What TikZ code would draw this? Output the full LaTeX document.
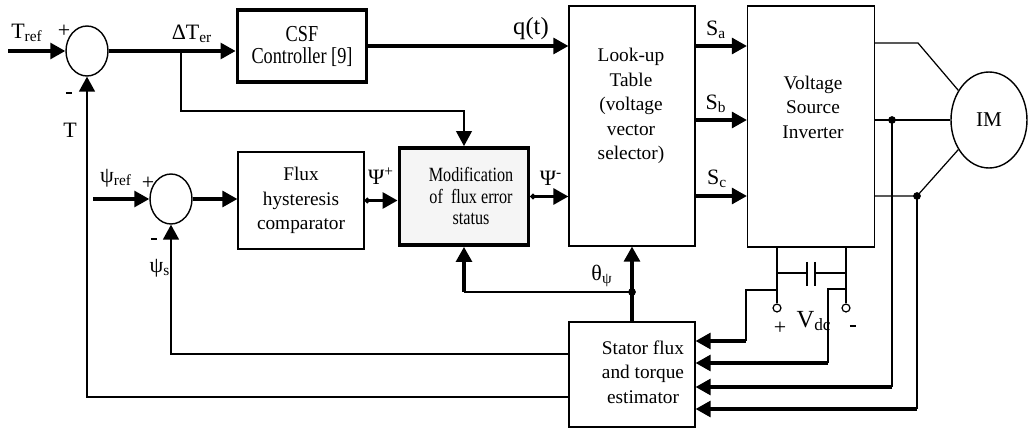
\documentclass[tikz,border=0pt]{standalone}
\usepackage{fontspec}
\setmainfont{Liberation Serif}
\newfontfamily\narrowfont{Liberation Serif}[FakeStretch=0.8]
\usepackage{tikz}
\usetikzlibrary{shapes.geometric, arrows.meta, positioning}
\tikzstyle{block} = [draw, rectangle, line width=0.7pt, align=center, inner sep=0pt, font=\fontsize{11}{14}\selectfont]
\tikzstyle{boldblock} = [block, line width=2.2pt, font=\narrowfont\fontsize{13}{12.5}\selectfont]
\tikzstyle{sumnode} = [draw, ellipse, line width=0.8pt, minimum width=0.84cm, minimum height=1cm, inner sep=0pt]
\tikzstyle{term} = [draw, circle, line width=0.7pt, fill=white, minimum size=4.5pt, inner sep=0pt]
\tikzstyle{wire} = [line width=0.7pt]
\tikzstyle{arrow} = [line width=1.8pt, -{Triangle[length=8.5pt, width=9pt]}]
\tikzstyle{fbarrow} = [line width=1.2pt, -{Triangle[length=8.5pt, width=9pt]}]
\tikzstyle{thinarrow} = [wire, -{Triangle[length=8.5pt, width=9pt]}]
\tikzstyle{lbl} = [inner sep=0pt, font=\fontsize{12.5}{14}\selectfont]
\tikzstyle{txt} = [align=center, inner sep=0pt, font=\fontsize{11}{14}\selectfont]
\newcommand{\minussign}{\rule[2pt]{3.5pt}{1.3pt}}

\begin{document}
\begin{tikzpicture}[x=0.02cm, y=-0.02cm]
    \useasboundingbox (0,0) rectangle (1029,429);

    % Nodes
    \node[sumnode] (sum1) at (87,51) {};
    \node[sumnode] (sum2) at (171,199) {};
    \node[boldblock, minimum width=2.58cm, minimum height=1.44cm] (csf) at (302,46) {CSF\\Controller [9]};
    \node[block, minimum width=2.52cm, minimum height=4.8cm] (lut) at (632,126) {};
    \node[block, minimum width=2.54cm, minimum height=4.82cm] (vsi) at (811,126.5) {};
    \node[draw, ellipse, line width=0.8pt, minimum width=1.52cm, minimum height=1.92cm, font=\fontsize{12}{14}\selectfont] (im) at (989,120) {IM};
    \node[block, minimum width=2.52cm, minimum height=1.94cm] (flux) at (301,200.5) {Flux\\hysteresis\\comparator};
    \node[block, line width=2.2pt, fill=gray!8, minimum width=2.58cm, minimum height=1.94cm] (mod) at (464,196.5) {};
    \node[block, minimum width=2.52cm, minimum height=2.1cm] (est) at (632,374.5) {};
    \node[term] (tp) at (777,308) {};
    \node[term] (tn) at (846,308) {};

    % Texts in the blocks
    \node[txt] (luttext) at (631,106) {Look-up\\Table\\(voltage\\vector\\selector)};
    \node[txt] (vsitext) at (813,107) {Voltage\\Source\\Inverter};
    \node[txt, font=\narrowfont\fontsize{11.5}{12}\selectfont] (modtext) at (471,196) {Modification\\of~ flux error\\status};
    \node[txt] (esttext) at (643,372) {Stator flux\\and torque\\estimator};

    % Points on the lines
    \coordinate (tin) at (8,51);
    \coordinate (psiin) at (93,199);
    \coordinate (br1) at (181,51);
    \coordinate (ja) at (918,43);
    \coordinate (jb) at (892,120);
    \coordinate (jc) at (917,196);
    \coordinate (jt) at (632,292);
    \coordinate (c1) at (807,273);
    \coordinate (c2) at (815,273);
    \coordinate (w1) at (746,341);
    \coordinate (w2) at (828,363);
    \coordinate (w3) at (892,387);
    \coordinate (w4) at (917,409);

    % Torque loop
    \draw[arrow] (tin) -- (sum1.west);
    \draw[arrow] (sum1.east) -- (sum1.east -| csf.west);
    \draw[thinarrow] (br1) -- (br1 |- 0,111) -| (mod.north);
    \draw[arrow] (csf.east) -- (csf.east -| lut.west);

    % Flux loop
    \draw[arrow] (psiin) -- (sum2.west);
    \draw[arrow] (sum2.east) -- (sum2.east -| flux.west);
    \draw[arrow, {Circle[length=3pt]}-{Triangle[length=8.5pt, width=9pt]}] (flux.east) -- (flux.east -| mod.west);
    \draw[arrow, {Circle[length=3pt]}-{Triangle[length=8.5pt, width=9pt]}] (mod.east) -- (mod.east -| lut.west);

    % Switching signals
    \draw[arrow] (lut.east |- csf.east) -- (vsi.west |- csf.east);
    \draw[arrow] (lut.east |- im.west) -- (vsi.west |- im.west);
    \draw[arrow] (lut.east |- jc) -- (vsi.west |- jc);

    % Motor
    \draw[wire] (vsi.east |- ja) -- (ja) -- (im.136);
    \draw[wire] (vsi.east |- im.west) -- (im.west);
    \draw[wire] (vsi.east |- jc) -- (jc) -- (im.224);
    \fill (jb) circle (2.2pt);
    \fill (jc) circle (2.2pt);

    % DC link
    \draw[wire] (tp.north) -- (tp |- vsi.south);
    \draw[wire] (tn.north) -- (tn |- vsi.south);
    \draw[wire] (tp |- c1) -- (c1);
    \draw[wire] (c2) -- (tn |- c2);
    \draw[line width=1.2pt] (807,262) -- (807,286) (815,262) -- (815,286);

    % Estimator inputs
    \draw[wire] (tp |- 0,290) -| (w1);
    \draw[arrow] (w1) -- (est.east |- w1);
    \draw[wire] (tn |- 0,289) -| (w2);
    \draw[arrow] (w2) -- (est.east |- w2);
    \draw[wire] (jb) -- (w3);
    \draw[arrow] (w3) -- (est.east |- w3);
    \draw[wire] (jc) -- (w4);
    \draw[arrow] (w4) -- (est.east |- w4);

    % Estimator outputs
    \draw[arrow] (est.north) -- (lut.south);
    \fill (jt) circle (2.2pt);
    \draw[wire] (jt) -- (jt -| mod.south);
    \draw[arrow] (jt -| mod.south) -- (mod.south);
    \draw[fbarrow] (est.west |- 0,354) -| (sum2.south);
    \draw[fbarrow] (est.west |- 0,397) -| (sum1.south);

    % Labels
    \node[lbl] (treflbl) at (27,33) {T\textsubscript{ref}};
    \node[lbl] (plus1) at (64,31) {+};
    \node[lbl] (minus1) at (69,95) {\minussign};
    \node[lbl] (tlbl) at (70,130) {T};
    \node[lbl] (dterlbl) at (192,34) {ΔT\textsubscript{er}};
    \node[lbl, font=\fontsize{14}{14}\selectfont] (qlbl) at (531,29) {q(t)};
    \node[lbl] (salbl) at (716,30) {S\textsubscript{a}};
    \node[lbl] (sblbl) at (716,104) {S\textsubscript{b}};
    \node[lbl] (sclbl) at (717,179) {S\textsubscript{c}};
    \node[lbl] (psireflbl) at (116,178) {ψ\textsubscript{ref}};
    \node[lbl] (plus2) at (148,183) {+};
    \node[lbl] (minus2) at (154,241) {\minussign};
    \node[lbl] (psislbl) at (160,268) {ψ\textsubscript{s}};
    \node[lbl] (psiplbl) at (381,176) {Ψ\textsuperscript{+}};
    \node[lbl] (psimlbl) at (551,178) {Ψ\textsuperscript{-}};
    \node[lbl] (thetalbl) at (602,276) {θ\textsubscript{ψ}};
    \node[lbl] (plus3) at (780,328) {+};
    \node[lbl, font=\fontsize{14}{14}\selectfont] (vdclbl) at (814,321) {V\textsubscript{dc}};
    \node[lbl] (minus3) at (853,328) {\minussign};
\end{tikzpicture}
\end{document}
